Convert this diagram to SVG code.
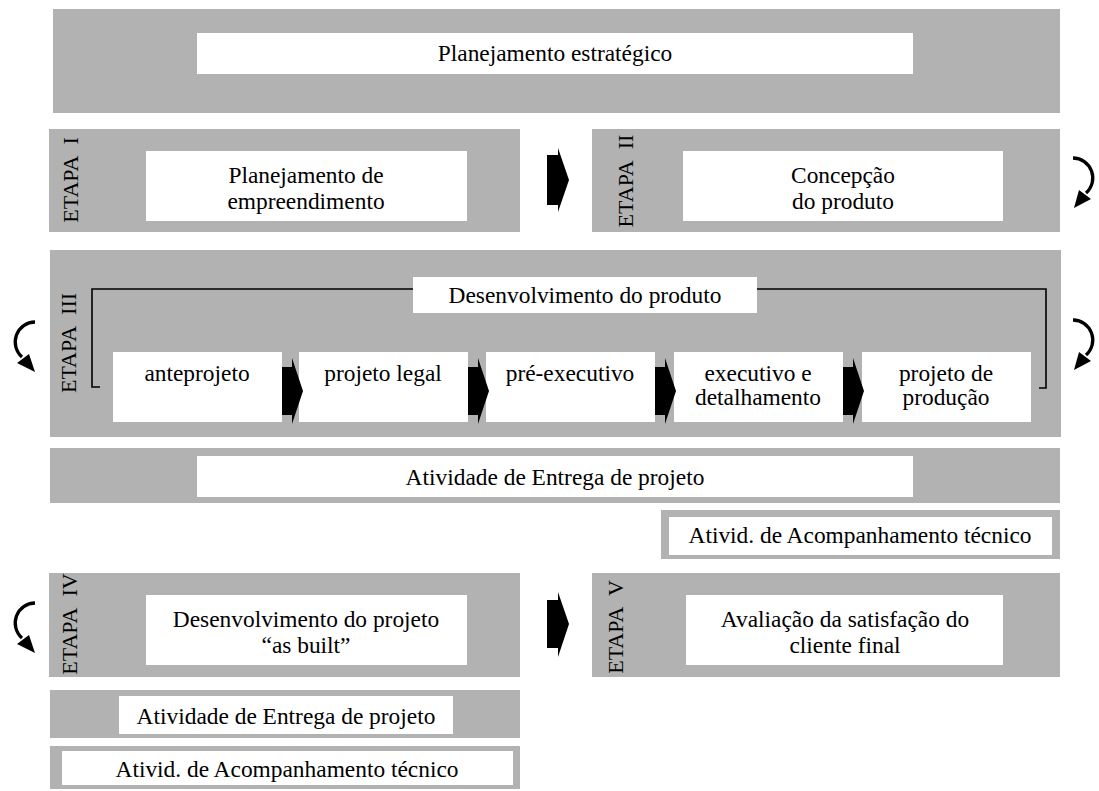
<svg xmlns="http://www.w3.org/2000/svg" width="1099" height="791" viewBox="0 0 1099 791">
<style>
.g{fill:#b2b2b2}
.w{fill:#ffffff}
text{font-family:"Liberation Serif","Times New Roman",serif;font-size:23.4px;fill:#000;text-anchor:middle}
.et{font-size:22px}
.blk{fill:#000}
.arc{fill:none;stroke:#000;stroke-width:3.3}
.br{fill:none;stroke:#000;stroke-width:1.6}
</style>
<rect width="1099" height="791" fill="#fff"/>
<g id="planejamento-estrategico">
<rect class="g" x="53" y="9" width="1007" height="104"/>
<rect class="w" x="197" y="33" width="716" height="41"/>
<text x="555" y="61">Planejamento estratégico</text>
</g>
<g id="etapa1">
<rect class="g" x="49" y="129" width="471" height="103"/>
<rect class="w" x="146" y="151" width="321" height="70"/>
<text class="et" transform="translate(78,180) rotate(-90)">ETAPA&#160; I</text>
<text x="306" y="183">Planejamento de</text>
<text x="306" y="209">empreendimento</text>
</g>
<g id="etapa2">
<rect class="g" x="592" y="129" width="468" height="103"/>
<rect class="w" x="683" y="151" width="320" height="70"/>
<text class="et" transform="translate(633,181) rotate(-90)">ETAPA&#160; II</text>
<text x="843" y="183">Concepção</text>
<text x="843" y="209">do produto</text>
</g>
<g id="etapa3">
<rect class="g" x="50" y="250" width="1011" height="187"/>
<text class="et" transform="translate(76,343) rotate(-90)">ETAPA&#160; III</text>
<path class="br" d="M100,387 H92 V289 H1046 V388 H1039"/>
<rect class="w" x="413" y="277" width="344" height="36"/>
<text x="585" y="303">Desenvolvimento do produto</text>
</g>
<g id="anteprojeto">
<rect class="w" x="113" y="352" width="169" height="70"/>
<text x="197" y="381">anteprojeto</text>
</g>
<g id="projeto-legal">
<rect class="w" x="299" y="352" width="169" height="70"/>
<text x="383" y="381">projeto legal</text>
</g>
<g id="pre-executivo">
<rect class="w" x="486" y="352" width="169" height="70"/>
<text x="570" y="381">pré-executivo</text>
</g>
<g id="executivo">
<rect class="w" x="674" y="352" width="169" height="70"/>
<text x="758" y="381">executivo e</text>
<text x="758" y="405">detalhamento</text>
</g>
<g id="projeto-producao">
<rect class="w" x="862" y="352" width="169" height="70"/>
<text x="946" y="381">projeto de</text>
<text x="946" y="405">produção</text>
</g>
<g id="entrega1">
<rect class="g" x="50" y="448" width="1010" height="55"/>
<rect class="w" x="197" y="456" width="716" height="41"/>
<text x="555" y="485">Atividade de Entrega de projeto</text>
</g>
<g id="acompanhamento1">
<rect class="g" x="661" y="510" width="399" height="49"/>
<rect class="w" x="669" y="517" width="383" height="38"/>
<text x="860" y="543">Ativid. de Acompanhamento técnico</text>
</g>
<g id="etapa4">
<rect class="g" x="49" y="573" width="471" height="104"/>
<rect class="w" x="146" y="595" width="321" height="70"/>
<text class="et" transform="translate(77,624) rotate(-90)">ETAPA&#160; IV</text>
<text x="306" y="627">Desenvolvimento do projeto</text>
<text x="306" y="653">“as built”</text>
</g>
<g id="etapa5">
<rect class="g" x="592" y="573" width="468" height="104"/>
<rect class="w" x="686" y="595" width="317" height="70"/>
<text class="et" transform="translate(623,627) rotate(-90)">ETAPA&#160; V</text>
<text x="845" y="627">Avaliação da satisfação do</text>
<text x="845" y="653">cliente final</text>
</g>
<g id="entrega2">
<rect class="g" x="50" y="690" width="470" height="48"/>
<rect class="w" x="119" y="696" width="334" height="38"/>
<text x="286" y="724">Atividade de Entrega de projeto</text>
</g>
<g id="acompanhamento2">
<rect class="g" x="50" y="746" width="470" height="43"/>
<rect class="w" x="62" y="751" width="451" height="34"/>
<text x="287" y="777">Ativid. de Acompanhamento técnico</text>
</g>
<g id="connectors">
<polygon class="blk" points="547,155 558,155 558,148 569,180 558,212 558,205 547,205"/>
<polygon class="blk" points="547,600 558,600 558,592 569,624 558,657 558,648 547,648"/>
<polygon class="blk" points="282,367 292,367 292,358 303,391 292,424 292,415 282,415"/>
<polygon class="blk" points="468,367 478,367 478,358 489,391 478,424 478,415 468,415"/>
<polygon class="blk" points="655,367 665,367 665,358 676,391 665,424 665,415 655,415"/>
<polygon class="blk" points="843,367 853,367 853,358 864,391 853,424 853,415 843,415"/>
<path class="arc" d="M1073,158 A20,20 0 0 1 1086,193"/>
<polygon class="blk" points="1091,199 1074,208 1079,190"/>
<path class="arc" d="M1073,320 A20,20 0 0 1 1086,355"/>
<polygon class="blk" points="1091,361 1074,370 1079,352"/>
<path class="arc" d="M35,322 A20,20 0 0 0 22,357"/>
<polygon class="blk" points="17,363 35,372 29,354"/>
<path class="arc" d="M35,603 A20,20 0 0 0 22,638"/>
<polygon class="blk" points="17,644 35,653 29,635"/>
</g>
</svg>
